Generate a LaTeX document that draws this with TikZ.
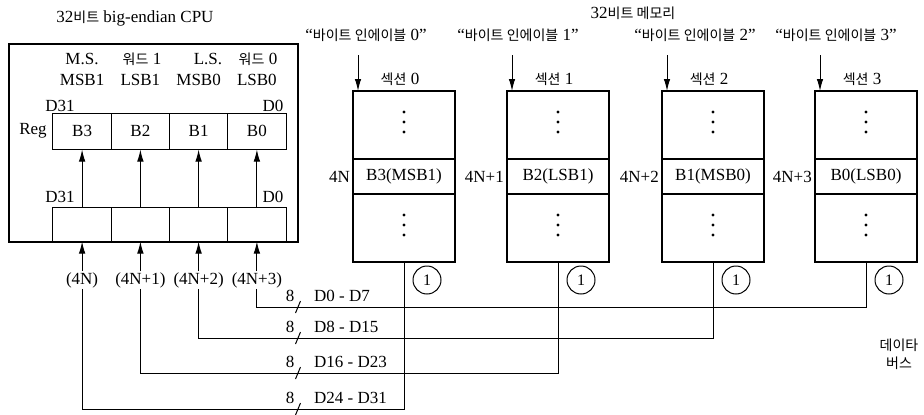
\documentclass[tikz,border=0pt]{standalone}
\usepackage{fontspec}
\setmainfont{Liberation Serif}
\newfontfamily\krfont{Noto Sans CJK KR}
\newcommand{\ko}[1]{{\krfont\fontsize{14}{18}\selectfont #1}}
\usetikzlibrary{arrows.meta,calc}
\tikzset{
  txt/.style={font=\fontsize{17}{19}\selectfont, inner sep=1pt},
  ktxt/.style={font=\fontsize{14}{18}\selectfont\krfont, inner sep=1pt},
  cell/.style={draw, line width=1pt, minimum width=58.25pt, inner sep=0pt, font=\fontsize{17}{19}\selectfont},
  memcell/.style={draw, line width=1pt, minimum width=101pt, inner sep=0pt, font=\fontsize{17}{19}\selectfont},
  thinline/.style={line width=1pt},
  thickbox/.style={line width=2.4pt},
  arr/.style={line width=1pt, -{Latex[length=12pt,width=6.5pt]}},
}
\begin{document}
\begin{tikzpicture}[x=1pt,y=-1pt]
\useasboundingbox[fill=white] (0,0) rectangle (924,415);

% ---------- CPU ----------
\node[txt] (cputitle) at (135,18) {32\ko{비트} big-endian CPU};
\node[draw, thickbox, minimum width=289pt, minimum height=198pt, anchor=north west, inner sep=0pt] (cpu) at (8,43) {};

\node[txt] (ms) at (82,59) {M.S.};
\node[txt] (w1) at (142,59) {\ko{워드} 1};
\node[txt] (ls) at (208,59) {L.S.};
\node[txt] (w0) at (258,59) {\ko{워드} 0};

\node[txt] (rdhi) at (60,106) {D31};
\node[txt] (rdlo) at (273,106) {D0};
\node[txt] (ldhi) at (60,197) {D31};
\node[txt] (ldlo) at (273,197) {D0};
\node[txt] (reglab) at (33,131) {Reg};

\foreach \j/\x/\b/\s/\a in {3/82.1/B3/MSB1/(4N), 2/140.4/B2/LSB1/(4N+1), 1/198.6/B1/MSB0/(4N+2), 0/256.9/B0/LSB0/(4N+3)} {
  \node[txt] (sb\j) at (\x,80) {\s};
  \node[cell, minimum height=36pt] (r\j) at (\x,131) {\b};
  \node[cell, minimum height=34pt] (l\j) at (\x,224) {};
  \draw[arr] (l\j) -- (r\j);
  \node[txt] (a\j) at (\x,280) {\a};
  \draw[arr] (a\j) -- (l\j.south);
}

% ---------- Memory ----------
\node[txt] (memtitle) at (633,13) {32\ko{비트 메모리}};

\foreach \i/\x/\lab/\addr/\ex in {0/353/B3(MSB1)/4N/366, 1/507/B2(LSB1)/4N+1/518, 2/662/B1(MSB0)/4N+2/695, 3/815/B0(LSB0)/4N+3/836} {
  \node[memcell, minimum height=67pt, anchor=north west] (t\i) at (\x,91) {};
  \node[memcell, minimum height=34pt, anchor=north] (m\i) at (t\i.south) {\lab};
  \node[memcell, minimum height=67pt, anchor=north] (b\i) at (m\i.south) {};
  \draw[thickbox] (t\i.north west) rectangle (b\i.south east);
  \foreach \d in {-10,0,10} {
    \fill ($(t\i.center)+(0,\d-3)$) circle (1.6);
    \fill ($(b\i.center)+(0,\d-3)$) circle (1.6);
  }
  \node[txt] (h\i) at ($(t\i.north)+(-4,-12)$) {\ko{섹션} \i};
  \node[txt, anchor=east] (n\i) at ($(m\i.west)+(-2,0)$) {\addr};
  \node[txt] (e\i) at (\ex,35) {“\ko{바이트 인에이블} \i”};
  \coordinate (q\i) at ($(t\i.north west)+(5,-36)$);
  \draw[arr] (q\i) -- (q\i |- t\i.north);
  \node[txt, draw, circle, thinline, minimum size=28pt, inner sep=0pt, font=\fontsize{16}{18}\selectfont] (c\i) at ($(b\i.south)+(23,18)$) {1};
}

% ---------- Data bus ----------
\foreach \j/\sec/\y/\lab in {0/3/307/D0 - D7, 1/2/338/D8 - D15, 2/1/373/D16 - D23, 3/0/409/D24 - D31} {
  \coordinate (k\j) at (b\sec.south |- 0,\y);
  \draw[thinline] (a\j.south) |- (k\j) -- (b\sec.south);
  \node[txt] (eight\j) at (290,\y-11) {8};
  \node[txt, anchor=west] (dl\j) at (313,\y-11) {\lab};
  \coordinate (sl\j) at (298,\y);
  \draw[thinline] ($(sl\j)+(-2.5,6)$) -- ($(sl\j)+(2.5,-6)$);
}

\node[ktxt, align=center] (databus) at (899,354) {데이타\\버스};
\end{tikzpicture}
\end{document}
